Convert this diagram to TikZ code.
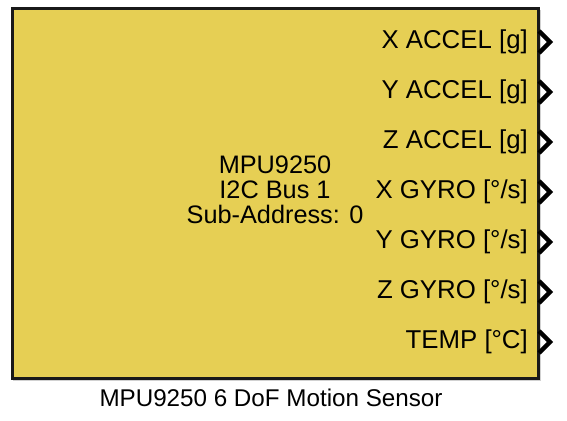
\documentclass[tikz,border=0pt]{standalone}
\usepackage{fontspec}
\setmainfont{Liberation Sans}
\definecolor{blockfill}{RGB}{230,207,84}
\definecolor{blockedge}{RGB}{25,25,25}
\tikzset{
  portlbl/.style={anchor=east, inner sep=0pt, font=\fontsize{25.8}{25.8}\selectfont},
  portarrow/.style={line width=4.4pt, black, miter limit=10},
}
\begin{document}
\begin{tikzpicture}[x=1pt,y=-1pt]
\useasboundingbox (0,0) rectangle (567,420);
% shadow
\fill[black!18] (13,10) rectangle (541,381);
\fill[black!30] (12,9) rectangle (539,379);
% block
\node[draw=blockedge, line width=2.8pt, fill=blockfill, minimum width=526pt, minimum height=370pt, inner sep=0pt, anchor=north west] (blk) at (11,7) {};
\node[align=center, font=\fontsize{25.3}{25}\selectfont, inner sep=0pt] (ctr) at (275,190) {MPU9250\\I2C Bus 1\\Sub-Address: 0};
\foreach \i/\t in {1/{X ACCEL [g]},2/{Y ACCEL [g]},3/{Z ACCEL [g]},4/{X GYRO [°/s]},5/{Y GYRO [°/s]},6/{Z GYRO [°/s]},7/{TEMP [°C]}}{
  \pgfmathsetmacro{\yy}{42+50*(\i-1)}
  \node[portlbl] (l\i) at (528,\yy) {\t};
  \coordinate (pa\i) at (539,\yy-11);
  \coordinate (pt\i) at (550,\yy);
  \coordinate (pb\i) at (539,\yy+11);
  \draw[portarrow] (pa\i) -- (pt\i) -- (pb\i);
}
\node[font=\fontsize{24.2}{24}\selectfont, inner sep=0pt] (name) at (271,398) {MPU9250 6 DoF Motion Sensor};
\end{tikzpicture}
\end{document}
